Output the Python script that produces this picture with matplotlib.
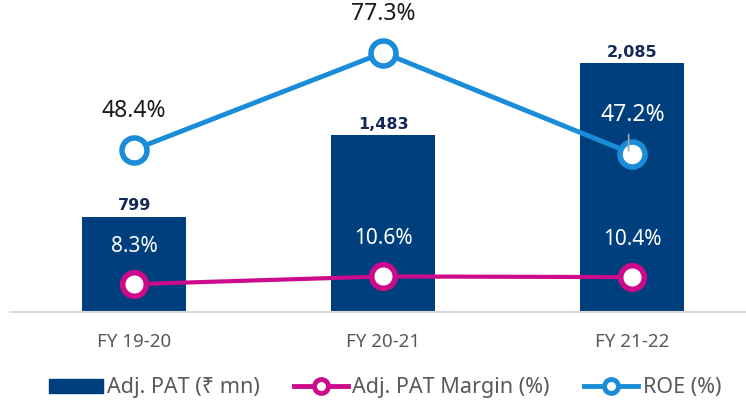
import matplotlib
matplotlib.use("Agg")
import matplotlib.pyplot as plt
from matplotlib.lines import Line2D
from matplotlib.patches import Patch

categories = ["FY 19-20", "FY 20-21", "FY 21-22"]
adj_pat = [799, 1483, 2085]
pat_margin = [8.3, 10.6, 10.4]
roe = [48.4, 77.3, 47.2]
bar_labels = ["799", "1,483", "2,085"]

NAVY = "#003F7D"
DARKNAVY = "#14285A"
MAGENTA = "#CC0A8C"
BLUE = "#1A8CD8"
GREY = "#595959"
FONT = ["Noto Sans", "DejaVu Sans"]
plt.rcParams["font.family"] = FONT

fig = plt.figure(figsize=(7.46, 4.04), dpi=100)
ax = fig.add_axes([9.5 / 746, 1 - 312 / 404, 1 - 9.5 / 746, 312 / 404])
ax2 = ax.twinx()

x = list(range(len(categories)))
ax.bar(x, adj_pat, width=0.418, color=NAVY, zorder=2)
ax.set_xlim(-0.5, (746 - 134) / 249 - 0.002)
ax.set_ylim(0, 2615)
ax2.set_ylim(0, 93)

for xi, v, lab in zip(x, adj_pat, bar_labels):
    ax.annotate(lab, (xi, v), xytext=(0, 2.5), textcoords="offset points",
                ha="center", va="bottom", fontsize=11.5, fontweight="bold",
                color=DARKNAVY, family="DejaVu Sans")

ax2.plot(x, pat_margin, color=MAGENTA, lw=3, marker="o", ms=17, mfc="white",
         mec=MAGENTA, mew=4, zorder=3, clip_on=False)
ax2.plot(x, roe, color=BLUE, lw=3.5, marker="o", ms=18, mfc="white",
         mec=BLUE, mew=4, zorder=3, clip_on=False)

for xi, v in zip(x, pat_margin):
    ax2.annotate(f"{v}%", (xi, v), xytext=(0, 27), textcoords="offset points",
                 ha="center", va="center", fontsize=15, color="white")
roe_colors = ["#1A1A1A", "#1A1A1A", "white"]
for xi, v, c in zip(x, roe, roe_colors):
    ax2.annotate(f"{v}%", (xi, v), xytext=(0, 28), textcoords="offset points",
                 ha="center", va="center", fontsize=16.5, color=c)
# leader line for last ROE label
ax2.annotate("", (x[2] - 0.015, roe[2]), xytext=(x[2] - 0.015, roe[2] + 6.5),
             arrowprops=dict(arrowstyle="-", color="#A6A6A6", lw=1.2), zorder=4)

for a in (ax, ax2):
    for s in a.spines.values():
        s.set_visible(False)
    a.set_yticks([])
ax.spines["bottom"].set_visible(True)
ax.spines["bottom"].set_color("#D9D9D9")
ax.spines["bottom"].set_linewidth(1.5)
ax.set_xticks(x)
ax.set_xticklabels(categories, fontsize=13.5, color=GREY)
ax.tick_params(axis="x", length=0, pad=15)

handles = [
    Patch(color=NAVY, label="Adj. PAT (₹ mn)"),
    Line2D([], [], color=MAGENTA, lw=3.5, marker="o", ms=10, mfc="white", mec=MAGENTA, mew=3.5,
           label="Adj. PAT Margin (%)"),
    Line2D([], [], color=BLUE, lw=3.5, marker="o", ms=10, mfc="white", mec=BLUE, mew=3.5,
           label="ROE (%)"),
]
fig.legend(handles=handles, loc="center", bbox_to_anchor=(0.516, 1 - 388 / 404), ncol=3,
           frameon=False, fontsize=15.5, labelcolor=GREY, handlelength=2.5,
           handletextpad=0.2, columnspacing=1.6, handleheight=0.6)

fig.savefig("out.png", dpi=100)
